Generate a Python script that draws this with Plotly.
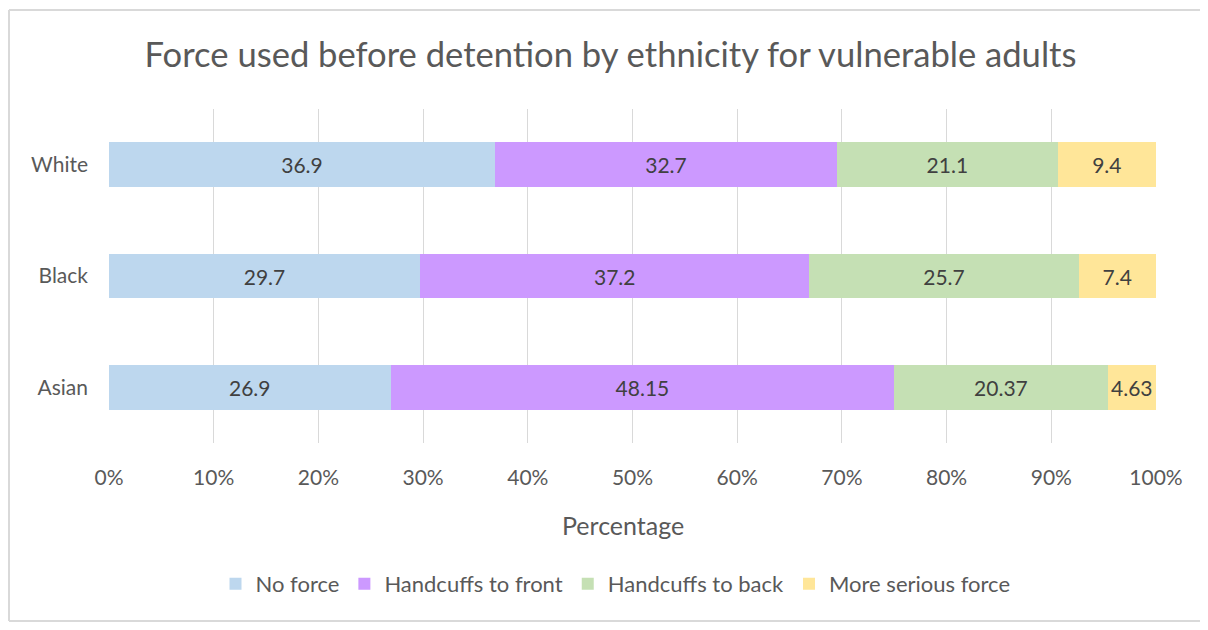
import plotly.graph_objects as go

categories = ["Asian", "Black", "White"]
series_names = ["No force", "Handcuffs to front", "Handcuffs to back", "More serious force"]
no_force = [26.9, 29.7, 36.9]
cuffs_front = [48.15, 37.2, 32.7]
cuffs_back = [20.37, 25.7, 21.1]
serious = [4.63, 7.4, 9.4]
colors = ["#BDD7EE", "#CC99FF", "#C5E0B4", "#FFE699"]

FONT = "Lato, 'Open Sans', sans-serif"
W, H = 1192, 614
L, T, PW, PH = 101, 101, 1047, 334

def px(x):
    return (x - L) / PW

def py(y):
    return (T + PH - y) / PH

fig = go.Figure()
for name, vals, col in zip(series_names, [no_force, cuffs_front, cuffs_back, serious], colors):
    fig.add_trace(go.Bar(
        y=categories, x=vals, name=name, orientation="h",
        marker=dict(color=col, line=dict(width=0)),
        text=[f"{v:g}" for v in vals], textposition="inside",
        insidetextanchor="middle",
        textfont=dict(family=FONT, size=21, color="#404040"),
        hoverinfo="x+y+name",
    ))

border = dict(type="line", xref="paper", yref="paper",
              line=dict(color="#D9D9D9", width=2), layer="below")
fig.update_layout(
    barmode="stack", barnorm="percent", bargap=0.6,
    width=W, height=H,
    margin=dict(l=L, r=W - L - PW, t=T, b=H - T - PH),
    paper_bgcolor="white", plot_bgcolor="white",
    font=dict(family=FONT, color="#595959"),
    title=dict(text="Force used before detention by ethnicity for vulnerable adults",
               x=px(602.5), xanchor="center", xref="paper", y=1 - 47 / H, yanchor="middle",
               font=dict(family=FONT, size=34.6, color="#595959")),
    xaxis=dict(range=[0, 100], dtick=10, ticksuffix="%", showgrid=True,
               gridcolor="#D9D9D9", gridwidth=1, zeroline=False, showline=False,
               tickfont=dict(size=21, color="#595959"), ticklabelstandoff=20),
    yaxis=dict(showgrid=False, showline=False, zeroline=False,
               tickfont=dict(size=21, color="#595959"), ticklabelstandoff=20),
    legend=dict(orientation="h", x=px(607.5), xanchor="center", y=py(576), yanchor="middle",
                font=dict(size=22, color="#595959"), traceorder="normal",
                itemwidth=30),
    annotations=[dict(text="Percentage", xref="paper", yref="paper",
                      x=px(614.5), y=py(517), xanchor="center", yanchor="middle",
                      showarrow=False, font=dict(size=25, color="#595959"))],
    shapes=[
        dict(border, x0=px(1), x1=px(1300), y0=py(2), y1=py(2)),
        dict(border, x0=px(1), x1=px(1), y0=py(2), y1=py(613)),
        dict(border, x0=px(1), x1=px(1300), y0=py(613), y1=py(613)),
    ],
)

fig.write_html("out.html", config={"displayModeBar": False},
               post_script="document.documentElement.style.overflow='hidden';document.body.style.overflow='hidden';")
